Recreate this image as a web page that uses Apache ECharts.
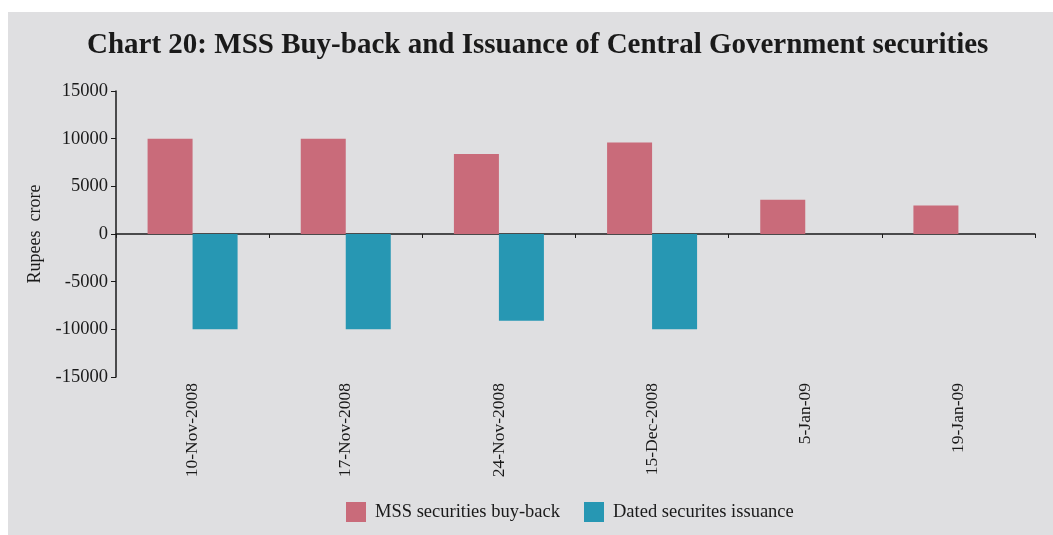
<!DOCTYPE html>
<html>
<head>
<meta charset="UTF-8">
<script src="https://cdn.jsdelivr.net/npm/echarts@6/dist/echarts.min.js"></script>
<style>
  html, body { margin: 0; padding: 0; background: #ffffff; }
  #chart { position: absolute; left: 8px; top: 12px; width: 1045px; height: 523px; }
</style>
</head>
<body>
<div id="chart"></div>
<script>
// chart data
const categories = ["10-Nov-2008", "17-Nov-2008", "24-Nov-2008", "15-Dec-2008", "5-Jan-09", "19-Jan-09"];
const buyBack = [10000, 10000, 8400, 9600, 3600, 3000];
const issuance = [-10000, -10000, -9100, -10000, 0, 0];
const seriesNames = ["MSS securities buy-back", "Dated securites issuance"];

const serif = "'Liberation Serif', 'DejaVu Serif', serif";
const chart = echarts.init(document.getElementById("chart"));

chart.setOption({
  backgroundColor: "#dfdfe1",
  animation: false,
  title: {
    text: "Chart 20: MSS Buy-back and Issuance of Central Government securities",
    left: 74,
    top: 14,
    textStyle: { fontFamily: serif, fontWeight: "bold", fontSize: 29, color: "#1a1a1a" }
  },
  legend: {
    bottom: 8,
    left: 333,
    itemWidth: 20,
    itemHeight: 20,
    itemGap: 24,
    icon: "rect",
    textStyle: { fontFamily: serif, fontSize: 18.5, color: "#1a1a1a", padding: [0, 0, 0, 4] },
    data: seriesNames
  },
  grid: { left: 108, right: 18, top: 79, bottom: 158 },
  xAxis: [
    {
      type: "category",
      data: categories,
      axisLine: { onZero: true, lineStyle: { color: "#1a1a1a", width: 1.5 } },
      axisTick: { show: true, length: 4, lineStyle: { color: "#1a1a1a" } },
      axisLabel: { show: false }
    },
    {
      type: "category",
      data: categories,
      position: "bottom",
      axisLine: { show: false, onZero: false },
      axisTick: { show: false },
      axisLabel: {
        rotate: 90,
        margin: 6,
        fontFamily: serif,
        fontSize: 17.5,
        color: "#1a1a1a"
      }
    }
  ],
  yAxis: {
    type: "value",
    min: -15000,
    max: 15000,
    interval: 5000,
    name: "Rupees  crore",
    nameLocation: "middle",
    nameGap: 72,
    nameTextStyle: { fontFamily: serif, fontSize: 18, color: "#1a1a1a" },
    axisLine: { show: true, lineStyle: { color: "#1a1a1a", width: 1.5 } },
    axisTick: { show: true, length: 5, lineStyle: { color: "#1a1a1a" } },
    axisLabel: {
      fontFamily: serif,
      fontSize: 18.5,
      color: "#1a1a1a",
      margin: 8,
      formatter: function (v) { return String(v); }
    },
    splitLine: { show: false }
  },
  series: [
    {
      name: seriesNames[0],
      type: "bar",
      data: buyBack,
      barWidth: 45,
      barGap: "0%",
      itemStyle: { color: "#c96b7a" }
    },
    {
      name: seriesNames[1],
      type: "bar",
      data: issuance,
      barWidth: 45,
      barGap: "0%",
      itemStyle: { color: "#2797b3" }
    }
  ]
});
</script>
</body>
</html>
